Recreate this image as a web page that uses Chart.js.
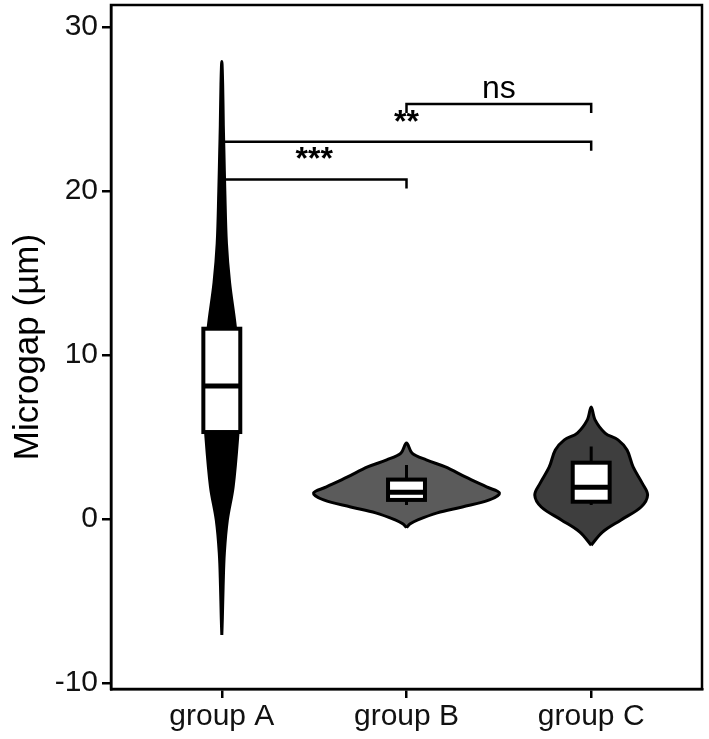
<!DOCTYPE html>
<html>
<head>
<meta charset="utf-8">
<script src="https://cdn.jsdelivr.net/npm/chart.js@4/dist/chart.umd.min.js"></script>
<style>
  body { margin: 0; background: #fff; }
  canvas { display: block; }
</style>
</head>
<body>
<canvas id="violinChart" width="709" height="739"></canvas>
<script>
// groups and axis ticks
const categories = ['group A', 'group B', 'group C'];
const yTicks = [-10, 0, 10, 20, 30];

// violin density profiles (y value -> relative density)
const violinYA = [-7.07, -6, -4.1, -2.07, -0.06, 1.95, 5.1, 6, 8, 10, 11.7, 14.4, 16.8, 20, 22.5, 24, 26.5, 27.9];
const violinDensA = [0, 0.006, 0.014, 0.027, 0.059, 0.12, 0.17, 0.173, 0.176, 0.165, 0.144, 0.083, 0.049, 0.032, 0.022, 0.016, 0.009, 0];
const violinYB = [-0.52, -0.3, -0.06, 0.37, 0.73, 1.16, 1.58, 1.95, 2.56, 3.17, 3.6, 4.02, 4.63];
const violinDensB = [0, 0.04, 0.12, 0.327, 0.593, 0.88, 0.987, 0.85, 0.625, 0.413, 0.21, 0.059, 0];
const violinYC = [-1.6, -0.8, -0.06, 0.73, 1.46, 2.2, 3.17, 4.2, 4.82, 5.24, 6.04, 6.83];
const violinDensC = [0, 0.12, 0.317, 0.53, 0.599, 0.54, 0.445, 0.381, 0.285, 0.147, 0.041, 0];

// box plot summaries
const whiskerLow = [-4.3, 0.85, 0.85];
const boxQ1 = [5.3, 1.16, 1.05];
const boxMedian = [8.1, 1.63, 1.93];
const boxQ3 = [11.6, 2.4, 3.43];
const whiskerHigh = [21.2, 3.29, 4.41];

// significance brackets
const bracketFrom = [1, 1, 2];
const bracketTo = [2, 3, 3];
const bracketY = [20.7, 23.0, 25.3];
const bracketLabels = ['***', '**', 'ns'];

// styling
const violinColors = ['#000000', '#5b5b5b', '#3e3e3e'];
const violinScale = 0.51;   // half width (x units) per unit density
const boxHalf = 0.1;
const bracketTip = 0.55;
const FONT = '"Liberation Sans", Arial, Helvetica, sans-serif';

Chart.defaults.font.family = FONT;
Chart.defaults.color = '#000';

function violinPoints(ys, dens, center) {
  const pts = [];
  for (let i = 0; i < ys.length; i++) {
    pts.push({ x: center - dens[i] * violinScale, y: ys[i] });
  }
  for (let i = ys.length - 2; i >= 0; i--) {
    pts.push({ x: center + dens[i] * violinScale, y: ys[i] });
  }
  return pts;
}

const violins = [
  [violinYA, violinDensA],
  [violinYB, violinDensB],
  [violinYC, violinDensC]
];

const datasets = violins.map((v, i) => ({
  data: violinPoints(v[0], v[1], i + 1),
  showLine: true,
  fill: 'shape',
  backgroundColor: violinColors[i],
  borderColor: '#000',
  borderWidth: 3,
  tension: 0.35,
  pointRadius: 0
}));

bracketFrom.forEach((from, i) => {
  const to = bracketTo[i];
  const y = bracketY[i];
  datasets.push({
    data: [
      { x: from, y: y - bracketTip },
      { x: from, y: y },
      { x: to, y: y },
      { x: to, y: y - bracketTip }
    ],
    showLine: true,
    fill: false,
    borderColor: '#000',
    borderWidth: 2.5,
    tension: 0,
    pointRadius: 0
  });
});

const boxPlugin = {
  id: 'boxes',
  afterDatasetsDraw(chart) {
    const ctx = chart.ctx;
    const xs = chart.scales.x;
    const ys = chart.scales.y;
    ctx.save();
    for (let i = 0; i < categories.length; i++) {
      const c = xs.getPixelForValue(i + 1);
      const l = xs.getPixelForValue(i + 1 - boxHalf);
      const r = xs.getPixelForValue(i + 1 + boxHalf);
      const top = ys.getPixelForValue(boxQ3[i]);
      const bot = ys.getPixelForValue(boxQ1[i]);
      ctx.strokeStyle = '#000';
      ctx.lineWidth = 3;
      ctx.beginPath();
      ctx.moveTo(c, ys.getPixelForValue(whiskerHigh[i]));
      ctx.lineTo(c, top);
      ctx.moveTo(c, bot);
      ctx.lineTo(c, ys.getPixelForValue(whiskerLow[i]));
      ctx.stroke();
      ctx.fillStyle = '#fff';
      ctx.fillRect(l, top, r - l, bot - top);
      ctx.lineWidth = 4;
      ctx.strokeRect(l, top, r - l, bot - top);
      const m = ys.getPixelForValue(boxMedian[i]);
      ctx.lineWidth = 5;
      ctx.beginPath();
      ctx.moveTo(l, m);
      ctx.lineTo(r, m);
      ctx.stroke();
    }
    // bracket labels
    ctx.fillStyle = '#000';
    ctx.textAlign = 'center';
    ctx.textBaseline = 'alphabetic';
    bracketLabels.forEach((lab, i) => {
      const isNs = lab === 'ns';
      ctx.font = (isNs ? '32px ' : 'bold 32px ') + FONT;
      const x = xs.getPixelForValue((bracketFrom[i] + bracketTo[i]) / 2);
      const y = ys.getPixelForValue(bracketY[i]) - (isNs ? 6 : 10);
      ctx.fillText(lab, x, y);
    });
    // panel frame
    const a = chart.chartArea;
    ctx.lineWidth = 2.5;
    ctx.strokeStyle = '#000';
    ctx.strokeRect(a.left, a.top, a.right - a.left, a.bottom - a.top);
    ctx.restore();
  }
};

new Chart(document.getElementById('violinChart'), {
  type: 'scatter',
  data: { datasets: datasets },
  options: {
    responsive: false,
    devicePixelRatio: 1,
    animation: false,
    layout: { padding: { top: 5, right: 7, left: 0, bottom: 0 } },
    plugins: {
      legend: { display: false },
      tooltip: { enabled: false }
    },
    scales: {
      x: {
        type: 'linear',
        min: 0.4,
        max: 3.6,
        afterBuildTicks: axis => { axis.ticks = categories.map((c, i) => ({ value: i + 1 })); },
        afterFit: axis => { axis.height = 50; axis.paddingLeft = 0; axis.paddingRight = 0; },
        ticks: {
          callback: v => categories[v - 1],
          font: { size: 30 },
          color: '#111',
          padding: 1,
          maxRotation: 0
        },
        grid: { drawOnChartArea: false, drawTicks: true, tickLength: 9, color: '#000', lineWidth: 2.5 },
        border: { display: true, color: '#000', width: 2.5 }
      },
      y: {
        min: -10.37,
        max: 31.34,
        afterBuildTicks: axis => { axis.ticks = yTicks.map(v => ({ value: v })); },
        afterFit: axis => { axis.width = 111; axis.paddingTop = 0; axis.paddingBottom = 0; },
        ticks: {
          callback: v => String(v),
          font: { size: 30 },
          color: '#111',
          padding: 4
        },
        grid: { drawOnChartArea: false, drawTicks: true, tickLength: 9, color: '#000', lineWidth: 2.5 },
        border: { display: true, color: '#000', width: 2.5 },
        title: {
          display: true,
          text: 'Microgap (µm)',
          font: { size: 35 },
          color: '#000',
          padding: { top: 7, bottom: 0 }
        }
      }
    }
  },
  plugins: [boxPlugin]
});
</script>
</body>
</html>
